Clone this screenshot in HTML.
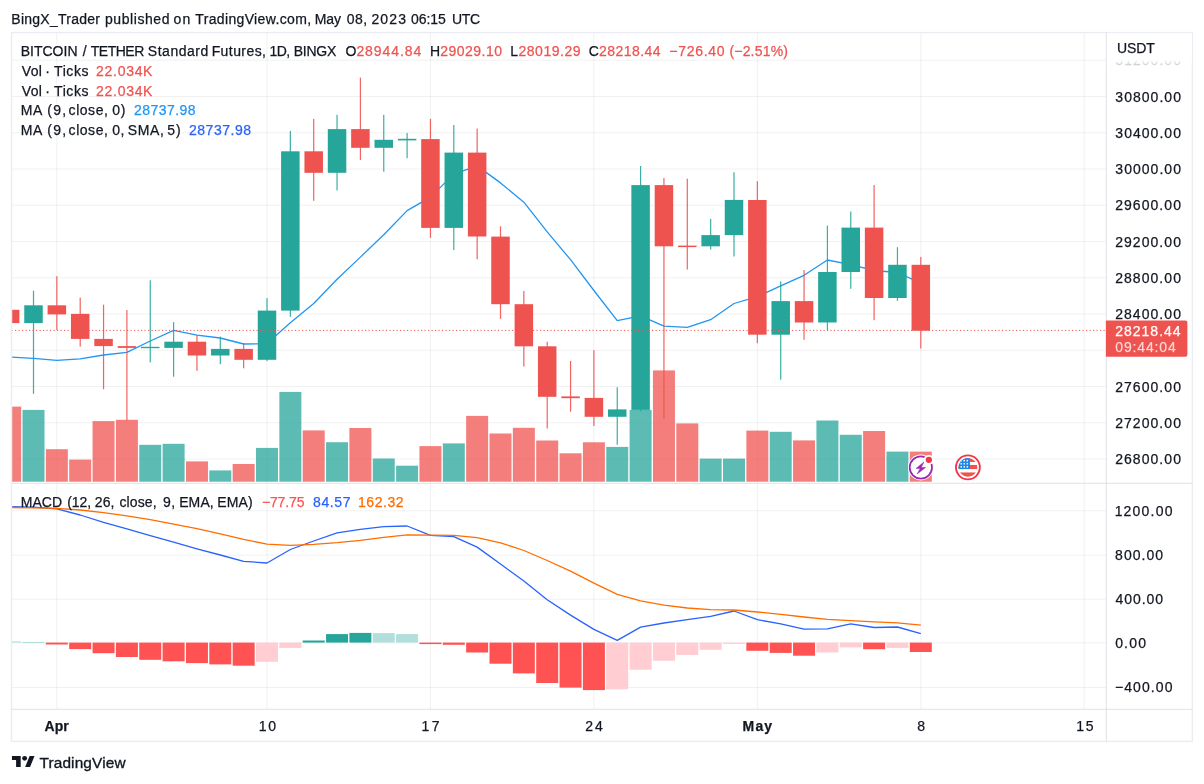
<!DOCTYPE html>
<html lang="en"><head><meta charset="utf-8"><title>BTC / TETHER chart</title>
<style>html,body{margin:0;padding:0;background:#fff}body{width:1204px;height:784px;position:relative;overflow:hidden}</style>
</head><body>
<svg width="1204" height="784" viewBox="0 0 1204 784" style="position:absolute;left:0;top:0;display:block" font-family="'Liberation Sans', sans-serif" font-size="14" fill="#131722">
<defs><clipPath id="cm"><rect x="11.5" y="32.6" width="1094.8" height="450.65"/></clipPath><clipPath id="cd"><rect x="11.5" y="483.25" width="1094.8" height="226.04999999999995"/></clipPath><linearGradient id="fade" x1="0" y1="0" x2="0" y2="1"><stop offset="0" stop-color="#fff" stop-opacity="1"/><stop offset="1" stop-color="#fff" stop-opacity="0.35"/></linearGradient></defs>
<rect x="0" y="0" width="1204" height="784" fill="#fff"/>
<g stroke="rgba(42,46,57,0.065)" stroke-width="1" fill="none">
<line x1="56.85" y1="32.6" x2="56.85" y2="709.3"/>
<line x1="267.00" y1="32.6" x2="267.00" y2="709.3"/>
<line x1="430.45" y1="32.6" x2="430.45" y2="709.3"/>
<line x1="593.90" y1="32.6" x2="593.90" y2="709.3"/>
<line x1="757.35" y1="32.6" x2="757.35" y2="709.3"/>
<line x1="920.80" y1="32.6" x2="920.80" y2="709.3"/>
<line x1="1084.25" y1="32.6" x2="1084.25" y2="709.3"/>
<line x1="11.5" y1="60.25" x2="1106.3" y2="60.25"/>
<line x1="11.5" y1="96.50" x2="1106.3" y2="96.50"/>
<line x1="11.5" y1="132.75" x2="1106.3" y2="132.75"/>
<line x1="11.5" y1="169.00" x2="1106.3" y2="169.00"/>
<line x1="11.5" y1="205.25" x2="1106.3" y2="205.25"/>
<line x1="11.5" y1="241.50" x2="1106.3" y2="241.50"/>
<line x1="11.5" y1="277.75" x2="1106.3" y2="277.75"/>
<line x1="11.5" y1="314.00" x2="1106.3" y2="314.00"/>
<line x1="11.5" y1="350.25" x2="1106.3" y2="350.25"/>
<line x1="11.5" y1="386.50" x2="1106.3" y2="386.50"/>
<line x1="11.5" y1="422.75" x2="1106.3" y2="422.75"/>
<line x1="11.5" y1="459.00" x2="1106.3" y2="459.00"/>
<line x1="11.5" y1="510.75" x2="1106.3" y2="510.75"/>
<line x1="11.5" y1="555.10" x2="1106.3" y2="555.10"/>
<line x1="11.5" y1="599.10" x2="1106.3" y2="599.10"/>
<line x1="11.5" y1="642.90" x2="1106.3" y2="642.90"/>
<line x1="11.5" y1="687.50" x2="1106.3" y2="687.50"/>
</g>
<g clip-path="url(#cm)">
<rect x="-0.85" y="406.6" width="22.0" height="75.1" fill="#EF5350" fill-opacity="0.75"/>
<rect x="22.50" y="409.9" width="22.0" height="71.8" fill="#26A69A" fill-opacity="0.75"/>
<rect x="45.85" y="449.2" width="22.0" height="32.5" fill="#EF5350" fill-opacity="0.75"/>
<rect x="69.20" y="459.6" width="22.0" height="22.1" fill="#EF5350" fill-opacity="0.75"/>
<rect x="92.55" y="421.1" width="22.0" height="60.6" fill="#EF5350" fill-opacity="0.75"/>
<rect x="115.90" y="419.8" width="22.0" height="61.9" fill="#EF5350" fill-opacity="0.75"/>
<rect x="139.25" y="444.8" width="22.0" height="36.9" fill="#26A69A" fill-opacity="0.75"/>
<rect x="162.60" y="443.8" width="22.0" height="37.9" fill="#26A69A" fill-opacity="0.75"/>
<rect x="185.95" y="461.4" width="22.0" height="20.3" fill="#EF5350" fill-opacity="0.75"/>
<rect x="209.30" y="470.4" width="22.0" height="11.3" fill="#26A69A" fill-opacity="0.75"/>
<rect x="232.65" y="464.0" width="22.0" height="17.7" fill="#EF5350" fill-opacity="0.75"/>
<rect x="256.00" y="447.9" width="22.0" height="33.8" fill="#26A69A" fill-opacity="0.75"/>
<rect x="279.35" y="391.9" width="22.0" height="89.8" fill="#26A69A" fill-opacity="0.75"/>
<rect x="302.70" y="430.4" width="22.0" height="51.3" fill="#EF5350" fill-opacity="0.75"/>
<rect x="326.05" y="442.2" width="22.0" height="39.5" fill="#26A69A" fill-opacity="0.75"/>
<rect x="349.40" y="428.0" width="22.0" height="53.7" fill="#EF5350" fill-opacity="0.75"/>
<rect x="372.75" y="458.5" width="22.0" height="23.2" fill="#26A69A" fill-opacity="0.75"/>
<rect x="396.10" y="465.7" width="22.0" height="16.0" fill="#26A69A" fill-opacity="0.75"/>
<rect x="419.45" y="446.1" width="22.0" height="35.6" fill="#EF5350" fill-opacity="0.75"/>
<rect x="442.80" y="443.4" width="22.0" height="38.3" fill="#26A69A" fill-opacity="0.75"/>
<rect x="466.15" y="415.9" width="22.0" height="65.8" fill="#EF5350" fill-opacity="0.75"/>
<rect x="489.50" y="433.5" width="22.0" height="48.2" fill="#EF5350" fill-opacity="0.75"/>
<rect x="512.85" y="427.8" width="22.0" height="53.9" fill="#EF5350" fill-opacity="0.75"/>
<rect x="536.20" y="440.5" width="22.0" height="41.2" fill="#EF5350" fill-opacity="0.75"/>
<rect x="559.55" y="453.3" width="22.0" height="28.4" fill="#EF5350" fill-opacity="0.75"/>
<rect x="582.90" y="442.3" width="22.0" height="39.4" fill="#EF5350" fill-opacity="0.75"/>
<rect x="606.25" y="446.9" width="22.0" height="34.8" fill="#26A69A" fill-opacity="0.75"/>
<rect x="629.60" y="409.9" width="22.0" height="71.8" fill="#26A69A" fill-opacity="0.75"/>
<rect x="652.95" y="370.4" width="22.0" height="111.3" fill="#EF5350" fill-opacity="0.75"/>
<rect x="676.30" y="423.4" width="22.0" height="58.3" fill="#EF5350" fill-opacity="0.75"/>
<rect x="699.65" y="458.6" width="22.0" height="23.1" fill="#26A69A" fill-opacity="0.75"/>
<rect x="723.00" y="458.6" width="22.0" height="23.1" fill="#26A69A" fill-opacity="0.75"/>
<rect x="746.35" y="430.6" width="22.0" height="51.1" fill="#EF5350" fill-opacity="0.75"/>
<rect x="769.70" y="431.8" width="22.0" height="49.9" fill="#26A69A" fill-opacity="0.75"/>
<rect x="793.05" y="440.4" width="22.0" height="41.3" fill="#EF5350" fill-opacity="0.75"/>
<rect x="816.40" y="420.5" width="22.0" height="61.2" fill="#26A69A" fill-opacity="0.75"/>
<rect x="839.75" y="434.8" width="22.0" height="46.9" fill="#26A69A" fill-opacity="0.75"/>
<rect x="863.10" y="431.0" width="22.0" height="50.7" fill="#EF5350" fill-opacity="0.75"/>
<rect x="886.45" y="451.6" width="22.0" height="30.1" fill="#26A69A" fill-opacity="0.75"/>
<rect x="909.80" y="451.6" width="22.0" height="30.1" fill="#EF5350" fill-opacity="0.75"/>
<polyline points="10.15,357.0 33.50,358.3 56.85,360.4 80.20,358.8 103.55,355.0 126.90,352.4 150.25,341.0 173.60,330.3 196.95,335.1 220.30,338.0 243.65,344.0 267.00,343.6 290.35,322.8 313.70,303.5 337.05,279.2 360.40,257.1 383.75,234.7 407.10,210.6 430.45,197.1 453.80,174.1 477.15,165.9 500.50,182.9 523.85,202.2 547.20,231.9 570.55,259.7 593.90,290.5 617.25,320.6 640.60,315.8 663.95,326.2 687.30,327.4 710.65,319.7 734.00,303.5 757.35,296.6 780.70,285.8 804.05,275.3 827.40,260.0 850.75,264.7 874.10,270.5 897.45,272.5 920.80,283.1" fill="none" stroke="#2196F3" stroke-width="1.3" stroke-linejoin="round"/>
<rect x="0.90" y="309.8" width="18.5" height="13.3" fill="#EF5350"/>
<rect x="32.90" y="290.7" width="1.2" height="103.1" fill="#26A69A" opacity="0.9"/>
<rect x="24.25" y="305.3" width="18.5" height="17.8" fill="#26A69A"/>
<rect x="56.25" y="276.2" width="1.2" height="53.8" fill="#EF5350" opacity="0.9"/>
<rect x="47.60" y="305.3" width="18.5" height="9.1" fill="#EF5350"/>
<rect x="79.60" y="297.6" width="1.2" height="49.0" fill="#EF5350" opacity="0.9"/>
<rect x="70.95" y="313.9" width="18.5" height="25.0" fill="#EF5350"/>
<rect x="102.95" y="304.7" width="1.2" height="84.5" fill="#EF5350" opacity="0.9"/>
<rect x="94.30" y="338.9" width="18.5" height="7.2" fill="#EF5350"/>
<rect x="126.30" y="310.1" width="1.2" height="110.3" fill="#EF5350" opacity="0.9"/>
<rect x="117.65" y="346.1" width="18.5" height="1.8" fill="#EF5350"/>
<rect x="149.65" y="280.3" width="1.2" height="82.1" fill="#26A69A" opacity="0.9"/>
<rect x="141.00" y="346.8" width="18.5" height="1.4" fill="#26A69A"/>
<rect x="173.00" y="322.1" width="1.2" height="54.6" fill="#26A69A" opacity="0.9"/>
<rect x="164.35" y="341.7" width="18.5" height="6.2" fill="#26A69A"/>
<rect x="196.35" y="335.1" width="1.2" height="35.7" fill="#EF5350" opacity="0.9"/>
<rect x="187.70" y="341.7" width="18.5" height="13.8" fill="#EF5350"/>
<rect x="219.70" y="336.6" width="1.2" height="27.6" fill="#26A69A" opacity="0.9"/>
<rect x="211.05" y="348.9" width="18.5" height="6.6" fill="#26A69A"/>
<rect x="243.05" y="343.0" width="1.2" height="25.3" fill="#EF5350" opacity="0.9"/>
<rect x="234.40" y="348.9" width="18.5" height="10.9" fill="#EF5350"/>
<rect x="266.40" y="298.1" width="1.2" height="63.0" fill="#26A69A" opacity="0.9"/>
<rect x="257.75" y="310.6" width="18.5" height="49.2" fill="#26A69A"/>
<rect x="289.75" y="130.9" width="1.2" height="185.8" fill="#26A69A" opacity="0.9"/>
<rect x="281.10" y="151.3" width="18.5" height="159.3" fill="#26A69A"/>
<rect x="313.10" y="118.9" width="1.2" height="81.9" fill="#EF5350" opacity="0.9"/>
<rect x="304.45" y="151.3" width="18.5" height="21.5" fill="#EF5350"/>
<rect x="336.45" y="114.8" width="1.2" height="75.6" fill="#26A69A" opacity="0.9"/>
<rect x="327.80" y="129.1" width="18.5" height="43.7" fill="#26A69A"/>
<rect x="359.80" y="77.6" width="1.2" height="82.4" fill="#EF5350" opacity="0.9"/>
<rect x="351.15" y="129.1" width="18.5" height="18.7" fill="#EF5350"/>
<rect x="383.15" y="114.8" width="1.2" height="56.9" fill="#26A69A" opacity="0.9"/>
<rect x="374.50" y="139.8" width="18.5" height="8.0" fill="#26A69A"/>
<rect x="406.50" y="133.0" width="1.2" height="25.2" fill="#26A69A" opacity="0.9"/>
<rect x="397.85" y="138.8" width="18.5" height="1.6" fill="#26A69A"/>
<rect x="429.85" y="118.9" width="1.2" height="118.9" fill="#EF5350" opacity="0.9"/>
<rect x="421.20" y="139.1" width="18.5" height="88.8" fill="#EF5350"/>
<rect x="453.20" y="125.0" width="1.2" height="125.0" fill="#26A69A" opacity="0.9"/>
<rect x="444.55" y="152.6" width="18.5" height="75.3" fill="#26A69A"/>
<rect x="476.55" y="128.6" width="1.2" height="130.7" fill="#EF5350" opacity="0.9"/>
<rect x="467.90" y="152.6" width="18.5" height="83.9" fill="#EF5350"/>
<rect x="499.90" y="226.3" width="1.2" height="92.5" fill="#EF5350" opacity="0.9"/>
<rect x="491.25" y="236.6" width="18.5" height="67.6" fill="#EF5350"/>
<rect x="523.25" y="291.0" width="1.2" height="75.5" fill="#EF5350" opacity="0.9"/>
<rect x="514.60" y="304.2" width="18.5" height="42.1" fill="#EF5350"/>
<rect x="546.60" y="341.7" width="1.2" height="86.8" fill="#EF5350" opacity="0.9"/>
<rect x="537.95" y="346.3" width="18.5" height="50.5" fill="#EF5350"/>
<rect x="569.95" y="360.9" width="1.2" height="50.8" fill="#EF5350" opacity="0.9"/>
<rect x="561.30" y="396.4" width="18.5" height="1.8" fill="#EF5350"/>
<rect x="593.30" y="350.2" width="1.2" height="75.8" fill="#EF5350" opacity="0.9"/>
<rect x="584.65" y="397.9" width="18.5" height="18.9" fill="#EF5350"/>
<rect x="616.65" y="387.2" width="1.2" height="57.6" fill="#26A69A" opacity="0.9"/>
<rect x="608.00" y="409.4" width="18.5" height="7.4" fill="#26A69A"/>
<rect x="640.00" y="166.0" width="1.2" height="245.2" fill="#26A69A" opacity="0.9"/>
<rect x="631.35" y="185.1" width="18.5" height="224.8" fill="#26A69A"/>
<rect x="663.35" y="178.0" width="1.2" height="240.8" fill="#EF5350" opacity="0.9"/>
<rect x="654.70" y="185.1" width="18.5" height="61.2" fill="#EF5350"/>
<rect x="686.70" y="178.7" width="1.2" height="90.8" fill="#EF5350" opacity="0.9"/>
<rect x="678.05" y="245.6" width="18.5" height="1.5" fill="#EF5350"/>
<rect x="710.05" y="219.0" width="1.2" height="30.6" fill="#26A69A" opacity="0.9"/>
<rect x="701.40" y="235.1" width="18.5" height="11.2" fill="#26A69A"/>
<rect x="733.40" y="172.3" width="1.2" height="84.2" fill="#26A69A" opacity="0.9"/>
<rect x="724.75" y="199.9" width="18.5" height="35.2" fill="#26A69A"/>
<rect x="756.75" y="181.2" width="1.2" height="162.0" fill="#EF5350" opacity="0.9"/>
<rect x="748.10" y="200.0" width="18.5" height="134.7" fill="#EF5350"/>
<rect x="780.10" y="281.4" width="1.2" height="98.3" fill="#26A69A" opacity="0.9"/>
<rect x="771.45" y="301.1" width="18.5" height="33.6" fill="#26A69A"/>
<rect x="803.45" y="270.0" width="1.2" height="69.8" fill="#EF5350" opacity="0.9"/>
<rect x="794.80" y="301.1" width="18.5" height="21.4" fill="#EF5350"/>
<rect x="826.80" y="225.6" width="1.2" height="104.8" fill="#26A69A" opacity="0.9"/>
<rect x="818.15" y="272.0" width="18.5" height="50.5" fill="#26A69A"/>
<rect x="850.15" y="211.5" width="1.2" height="77.3" fill="#26A69A" opacity="0.9"/>
<rect x="841.50" y="227.6" width="18.5" height="44.4" fill="#26A69A"/>
<rect x="873.50" y="185.0" width="1.2" height="135.2" fill="#EF5350" opacity="0.9"/>
<rect x="864.85" y="227.6" width="18.5" height="70.4" fill="#EF5350"/>
<rect x="896.85" y="247.2" width="1.2" height="53.6" fill="#26A69A" opacity="0.9"/>
<rect x="888.20" y="264.8" width="18.5" height="33.2" fill="#26A69A"/>
<rect x="920.20" y="256.9" width="1.2" height="91.6" fill="#EF5350" opacity="0.9"/>
<rect x="911.55" y="264.8" width="18.5" height="65.9" fill="#EF5350"/>
</g>
<line x1="11.5" y1="330.4" x2="1106.3" y2="330.4" stroke="#EF5350" stroke-width="1" stroke-dasharray="1.15 2.35"/>
<g clip-path="url(#cd)">
<rect x="-0.85" y="641.4" width="22.0" height="1.2" fill="#B2DFDB"/>
<rect x="22.50" y="641.9" width="22.0" height="1.2" fill="#B2DFDB"/>
<rect x="45.85" y="642.6" width="22.0" height="1.9" fill="#FF5252"/>
<rect x="69.20" y="642.6" width="22.0" height="6.5" fill="#FF5252"/>
<rect x="92.55" y="642.6" width="22.0" height="10.6" fill="#FF5252"/>
<rect x="115.90" y="642.6" width="22.0" height="14.4" fill="#FF5252"/>
<rect x="139.25" y="642.6" width="22.0" height="17.2" fill="#FF5252"/>
<rect x="162.60" y="642.6" width="22.0" height="18.7" fill="#FF5252"/>
<rect x="185.95" y="642.6" width="22.0" height="20.5" fill="#FF5252"/>
<rect x="209.30" y="642.6" width="22.0" height="21.8" fill="#FF5252"/>
<rect x="232.65" y="642.6" width="22.0" height="23.1" fill="#FF5252"/>
<rect x="256.00" y="642.6" width="22.0" height="19.2" fill="#FFCDD2"/>
<rect x="279.35" y="642.6" width="22.0" height="5.3" fill="#FFCDD2"/>
<rect x="302.70" y="640.5" width="22.0" height="2.1" fill="#26A69A"/>
<rect x="326.05" y="634.1" width="22.0" height="8.5" fill="#26A69A"/>
<rect x="349.40" y="632.9" width="22.0" height="9.7" fill="#26A69A"/>
<rect x="372.75" y="633.1" width="22.0" height="9.5" fill="#B2DFDB"/>
<rect x="396.10" y="634.1" width="22.0" height="8.5" fill="#B2DFDB"/>
<rect x="419.45" y="642.6" width="22.0" height="1.5" fill="#FF5252"/>
<rect x="442.80" y="642.6" width="22.0" height="2.2" fill="#FF5252"/>
<rect x="466.15" y="642.6" width="22.0" height="9.9" fill="#FF5252"/>
<rect x="489.50" y="642.6" width="22.0" height="21.1" fill="#FF5252"/>
<rect x="512.85" y="642.6" width="22.0" height="30.8" fill="#FF5252"/>
<rect x="536.20" y="642.6" width="22.0" height="40.4" fill="#FF5252"/>
<rect x="559.55" y="642.6" width="22.0" height="45.0" fill="#FF5252"/>
<rect x="582.90" y="642.6" width="22.0" height="47.5" fill="#FF5252"/>
<rect x="606.25" y="642.6" width="22.0" height="46.7" fill="#FFCDD2"/>
<rect x="629.60" y="642.6" width="22.0" height="27.1" fill="#FFCDD2"/>
<rect x="652.95" y="642.6" width="22.0" height="18.2" fill="#FFCDD2"/>
<rect x="676.30" y="642.6" width="22.0" height="12.3" fill="#FFCDD2"/>
<rect x="699.65" y="642.6" width="22.0" height="7.2" fill="#FFCDD2"/>
<rect x="723.00" y="642.6" width="22.0" height="1.3" fill="#FFCDD2"/>
<rect x="746.35" y="642.6" width="22.0" height="8.2" fill="#FF5252"/>
<rect x="769.70" y="642.6" width="22.0" height="10.3" fill="#FF5252"/>
<rect x="793.05" y="642.6" width="22.0" height="13.1" fill="#FF5252"/>
<rect x="816.40" y="642.6" width="22.0" height="9.9" fill="#FFCDD2"/>
<rect x="839.75" y="642.6" width="22.0" height="4.8" fill="#FFCDD2"/>
<rect x="863.10" y="642.6" width="22.0" height="6.6" fill="#FF5252"/>
<rect x="886.45" y="642.6" width="22.0" height="5.3" fill="#FFCDD2"/>
<rect x="909.80" y="642.6" width="22.0" height="9.4" fill="#FF5252"/>
<polyline points="10.15,506.5 33.50,507.2 56.85,508.8 80.20,515.0 103.55,522.3 126.90,528.9 150.25,535.6 173.60,542.2 196.95,548.8 220.30,555.0 243.65,561.3 267.00,563.0 290.35,549.5 313.70,541.0 337.05,532.9 360.40,529.3 383.75,526.7 407.10,526.0 430.45,535.4 453.80,536.7 477.15,547.1 500.50,564.0 523.85,581.1 547.20,599.7 570.55,615.1 593.90,629.4 617.25,640.4 640.60,627.1 663.95,623.0 687.30,619.7 710.65,616.4 734.00,611.0 757.35,619.7 780.70,623.8 804.05,629.2 827.40,628.8 850.75,623.9 874.10,627.5 897.45,627.0 920.80,633.6" fill="none" stroke="#2962FF" stroke-width="1.3" stroke-linejoin="round"/>
<polyline points="10.15,507.5 33.50,507.8 56.85,508.3 80.20,510.0 103.55,512.6 126.90,515.9 150.25,519.7 173.60,524.1 196.95,528.7 220.30,533.8 243.65,539.4 267.00,544.1 290.35,545.4 313.70,544.3 337.05,542.6 360.40,540.3 383.75,537.4 407.10,534.9 430.45,535.2 453.80,535.4 477.15,537.7 500.50,542.8 523.85,550.5 547.20,560.5 570.55,571.2 593.90,583.2 617.25,594.4 640.60,600.8 663.95,605.2 687.30,608.0 710.65,609.7 734.00,610.0 757.35,612.0 780.70,614.3 804.05,617.0 827.40,619.3 850.75,620.6 874.10,621.9 897.45,622.9 920.80,625.2" fill="none" stroke="#FF6D00" stroke-width="1.3" stroke-linejoin="round"/>
</g>
<g stroke="#E0E1E6" stroke-width="1" fill="none">
<rect x="11.5" y="32.6" width="1180.9" height="708.8" stroke="#EBEDF2" stroke-width="1.5"/>
<line x1="1106.3" y1="32.6" x2="1106.3" y2="741.4"/>
<line x1="11.5" y1="483.25" x2="1192.4" y2="483.25"/>
<line x1="11.5" y1="709.3" x2="1192.4" y2="709.3"/>
</g>
<text y="24.20" stroke="#131722" stroke-width="0.25"><tspan x="11.35" letter-spacing="0.248">BingX_Trader</tspan> <tspan x="104.99" letter-spacing="0.571">published</tspan> <tspan x="173.41" letter-spacing="1.330">on</tspan> <tspan x="195.29" letter-spacing="0.351">TradingView.com,</tspan> <tspan x="314.85" letter-spacing="-0.185">May</tspan> <tspan x="346.65" letter-spacing="0.473">08,</tspan> <tspan x="371.40" letter-spacing="1.127">2023</tspan> <tspan x="410.95" letter-spacing="-0.023">06:15</tspan> <tspan x="451.92" letter-spacing="-0.330">UTC</tspan></text>
<text y="55.90" stroke="#131722" stroke-width="0.25"><tspan x="20.65" letter-spacing="0.016">BITCOIN</tspan> <tspan x="82.85" letter-spacing="0.000">/</tspan> <tspan x="90.78" letter-spacing="-0.500">TETHER</tspan> <tspan x="147.86" letter-spacing="0.518">Standard</tspan> <tspan x="211.65" letter-spacing="0.422">Futures,</tspan> <tspan x="269.41" letter-spacing="-0.500">1D,</tspan> <tspan x="293.65" letter-spacing="-0.206">BINGX</tspan></text>
<text x="345.51" y="55.90" letter-spacing="0.000" stroke="#131722" stroke-width="0.25" >O</text>
<text x="356.40" y="55.90" letter-spacing="0.930" fill="#EF5350" stroke="#EF5350" stroke-width="0.25" >28944.84</text>
<text x="429.94" y="55.90" letter-spacing="0.000" stroke="#131722" stroke-width="0.25" >H</text>
<text x="440.30" y="55.90" letter-spacing="0.465" fill="#EF5350" stroke="#EF5350" stroke-width="0.25" >29029.10</text>
<text x="510.26" y="55.90" letter-spacing="0.000" stroke="#131722" stroke-width="0.25" >L</text>
<text x="518.40" y="55.90" letter-spacing="0.552" fill="#EF5350" stroke="#EF5350" stroke-width="0.25" >28019.29</text>
<text x="588.85" y="55.90" letter-spacing="0.000" stroke="#131722" stroke-width="0.25" >C</text>
<text x="599.10" y="55.90" letter-spacing="0.430" fill="#EF5350" stroke="#EF5350" stroke-width="0.25" >28218.44</text>
<text x="669.31" y="55.90" letter-spacing="0.707" fill="#EF5350" stroke="#EF5350" stroke-width="0.25" >−726.40</text>
<text x="729.43" y="55.90" letter-spacing="0.192" fill="#EF5350" stroke="#EF5350" stroke-width="0.25" >(−2.51%)</text>
<text y="75.80" stroke="#131722" stroke-width="0.25"><tspan x="21.83" letter-spacing="0.274">Vol</tspan> <tspan x="45.37" letter-spacing="0.000">·</tspan> <tspan x="54.09" letter-spacing="0.567">Ticks</tspan></text>
<text x="96.10" y="75.80" letter-spacing="0.701" fill="#EF5350" stroke="#EF5350" stroke-width="0.25" >22.034K</text>
<text y="95.60" stroke="#131722" stroke-width="0.25"><tspan x="21.83" letter-spacing="0.274">Vol</tspan> <tspan x="45.37" letter-spacing="0.000">·</tspan> <tspan x="54.09" letter-spacing="0.567">Ticks</tspan></text>
<text x="96.10" y="95.60" letter-spacing="0.701" fill="#EF5350" stroke="#EF5350" stroke-width="0.25" >22.034K</text>
<text y="115.30" stroke="#131722" stroke-width="0.25"><tspan x="20.65" letter-spacing="0.576">MA</tspan> <tspan x="47.13" letter-spacing="1.395">(9,</tspan> <tspan x="68.61" letter-spacing="0.536">close,</tspan> <tspan x="112.25" letter-spacing="0.768">0)</tspan></text>
<text x="133.90" y="115.30" letter-spacing="0.473" fill="#2196F3" stroke="#2196F3" stroke-width="0.25" >28737.98</text>
<text y="135.40" stroke="#131722" stroke-width="0.25"><tspan x="20.65" letter-spacing="0.576">MA</tspan> <tspan x="47.13" letter-spacing="1.395">(9,</tspan> <tspan x="68.61" letter-spacing="0.536">close,</tspan> <tspan x="112.25" letter-spacing="0.530">0,</tspan> <tspan x="127.76" letter-spacing="0.625">SMA,</tspan> <tspan x="167.24" letter-spacing="1.082">5)</tspan></text>
<text x="188.90" y="135.40" letter-spacing="0.544" fill="#2962FF" stroke="#2962FF" stroke-width="0.25" >28737.98</text>
<text y="507.10" stroke="#131722" stroke-width="0.25"><tspan x="20.65" letter-spacing="0.101">MACD</tspan> <tspan x="67.23" letter-spacing="-0.065">(12,</tspan> <tspan x="94.80" letter-spacing="0.100">26,</tspan> <tspan x="119.41" letter-spacing="0.116">close,</tspan> <tspan x="163.04" letter-spacing="0.542">9,</tspan> <tspan x="179.15" letter-spacing="0.126">EMA,</tspan> <tspan x="217.15" letter-spacing="0.205">EMA)</tspan></text>
<text x="261.91" y="507.10" letter-spacing="-0.126" fill="#FF5252" stroke="#FF5252" stroke-width="0.25" >−77.75</text>
<text x="313.00" y="507.10" letter-spacing="0.618" fill="#2962FF" stroke="#2962FF" stroke-width="0.25" >84.57</text>
<text x="357.94" y="507.10" letter-spacing="0.570" fill="#FF6D00" stroke="#FF6D00" stroke-width="0.25" >162.32</text>
<text x="1115.37" y="65.35" letter-spacing="1.026" fill="#9598A1" stroke="#9598A1" stroke-width="0.25" >31200.00</text>
<text x="1115.37" y="101.60" letter-spacing="1.026" stroke="#131722" stroke-width="0.25" >30800.00</text>
<text x="1115.37" y="137.85" letter-spacing="1.026" stroke="#131722" stroke-width="0.25" >30400.00</text>
<text x="1115.37" y="174.10" letter-spacing="1.026" stroke="#131722" stroke-width="0.25" >30000.00</text>
<text x="1115.20" y="210.35" letter-spacing="1.050" stroke="#131722" stroke-width="0.25" >29600.00</text>
<text x="1115.20" y="246.60" letter-spacing="1.050" stroke="#131722" stroke-width="0.25" >29200.00</text>
<text x="1115.20" y="282.85" letter-spacing="1.050" stroke="#131722" stroke-width="0.25" >28800.00</text>
<text x="1115.20" y="319.10" letter-spacing="1.050" stroke="#131722" stroke-width="0.25" >28400.00</text>
<text x="1115.20" y="391.60" letter-spacing="1.050" stroke="#131722" stroke-width="0.25" >27600.00</text>
<text x="1115.20" y="427.85" letter-spacing="1.050" stroke="#131722" stroke-width="0.25" >27200.00</text>
<text x="1115.20" y="464.10" letter-spacing="1.050" stroke="#131722" stroke-width="0.25" >26800.00</text>
<rect x="1106.8999999999999" y="33.2" width="84.90000000000013" height="27" fill="#fff"/>
<rect x="1106.8999999999999" y="59.6" width="84.90000000000013" height="7.5" fill="url(#fade)"/>
<text x="1117.12" y="53.20" letter-spacing="-0.169" stroke="#131722" stroke-width="0.25" >USDT</text>
<path d="M1105.8999999999999 320.6 H1185.4 a2 2 0 0 1 2 2 V354.7 a2 2 0 0 1 -2 2 H1105.8999999999999 Z" fill="#EF5350"/>
<text x="1115.20" y="335.90" letter-spacing="1.002" fill="#fff" stroke="#fff" stroke-width="0.25" >28218.44</text>
<text x="1115.35" y="352.40" letter-spacing="0.838" fill="#fff" stroke="#fff" stroke-width="0.25" fill-opacity="0.75" stroke-opacity="0.5">09:44:04</text>
<text x="1114.64" y="515.50" letter-spacing="1.200" stroke="#131722" stroke-width="0.25" >1200.00</text>
<text x="1115.10" y="559.80" letter-spacing="1.047" stroke="#131722" stroke-width="0.25" >800.00</text>
<text x="1115.38" y="603.80" letter-spacing="0.991" stroke="#131722" stroke-width="0.25" >400.00</text>
<text x="1115.15" y="647.70" letter-spacing="1.183" stroke="#131722" stroke-width="0.25" >0.00</text>
<text x="1115.01" y="692.00" letter-spacing="1.074" stroke="#131722" stroke-width="0.25" >−400.00</text>
<text x="44.55" y="731.40" letter-spacing="0.026" stroke="#131722" stroke-width="0.25" font-weight="bold" >Apr</text>
<text x="258.64" y="731.40" letter-spacing="1.742" stroke="#131722" stroke-width="0.25" >10</text>
<text x="421.54" y="731.40" letter-spacing="2.496" stroke="#131722" stroke-width="0.25" >17</text>
<text x="585.30" y="731.40" letter-spacing="1.838" stroke="#131722" stroke-width="0.25" >24</text>
<text x="742.56" y="731.40" letter-spacing="1.189" stroke="#131722" stroke-width="0.25" font-weight="bold" >May</text>
<text x="917.26" y="731.40" letter-spacing="0.000" stroke="#131722" stroke-width="0.25" >8</text>
<text x="1076.24" y="731.40" letter-spacing="1.684" stroke="#131722" stroke-width="0.25" >15</text>
<g transform="translate(920.85,467.5)"><circle r="12.9" fill="#fff"/><circle r="11.15" fill="#fff" stroke="#9C27B0" stroke-width="1.75"/><path d="M3.1 -5.6 L-4.8 0.9 H-0.6 L-3.7 6.5 L4.7 0 H0.4 Z" fill="#9C27B0" stroke="#9C27B0" stroke-width="0.5" stroke-linejoin="round"/><circle cx="8" cy="-7.7" r="4.9" fill="#fff"/><circle cx="8" cy="-7.7" r="3.15" fill="#F23645"/></g>
<g transform="translate(967.9,467.35)"><circle r="12.9" fill="#fff"/><circle r="11.95" fill="#fff" stroke="#F23645" stroke-width="1.85"/><clipPath id="fc"><circle r="9.4"/></clipPath><g clip-path="url(#fc)"><rect x="-10" y="-10" width="20" height="20" fill="#fff"/><rect x="-10" y="-10" width="20" height="4.6" fill="#EF5350"/><rect x="-10" y="-2.4" width="20" height="4.1" fill="#EF5350"/><rect x="-10" y="5.1" width="20" height="5" fill="#EF5350"/><rect x="-10" y="-10" width="12" height="11.7" fill="#1E88E5"/><g fill="#fff"><circle cx="-6.70" cy="-6.70" r="0.85"/><circle cx="-3.65" cy="-6.70" r="0.85"/><circle cx="-0.60" cy="-6.70" r="0.85"/><circle cx="-6.70" cy="-3.60" r="0.85"/><circle cx="-3.65" cy="-3.60" r="0.85"/><circle cx="-0.60" cy="-3.60" r="0.85"/><circle cx="-6.70" cy="-0.50" r="0.85"/><circle cx="-3.65" cy="-0.50" r="0.85"/><circle cx="-0.60" cy="-0.50" r="0.85"/></g></g></g>
<g fill="#131722"><path d="M11.95 755.95 H20.7 V767.05 H16.1 V760 H11.95 Z"/><circle cx="24.62" cy="758.35" r="2.45"/><path d="M29.6 755.95 H34.5 L30.05 767.05 H25.15 Z"/></g>
<text x="39.56" y="768.00" letter-spacing="0.126" stroke="#131722" stroke-width="0.35" font-size="15.4" >TradingView</text>
</svg>
</body></html>
